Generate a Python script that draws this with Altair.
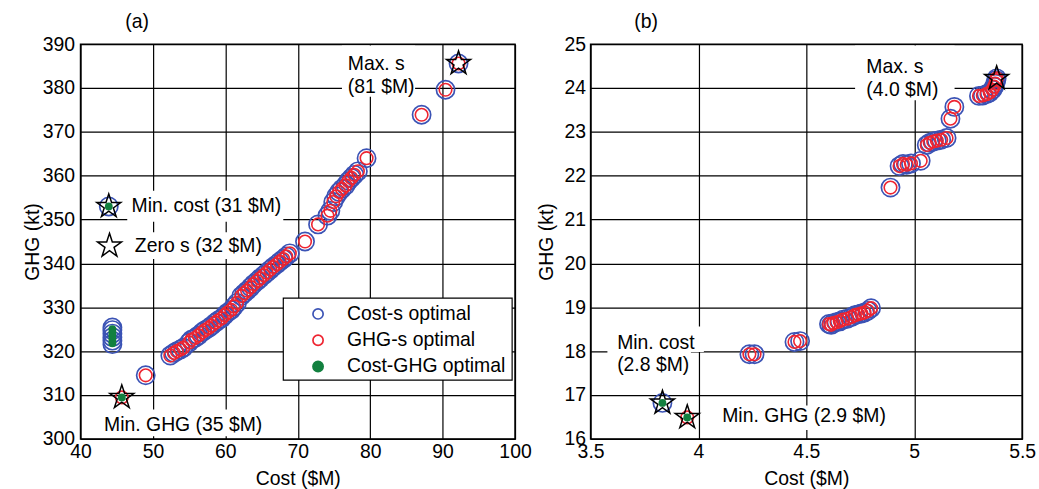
import altair as alt
import pandas as pd

# ---------------- Panel (a) data ----------------
a_pts_x = [52.4, 52.9, 53.3, 53.8, 54.2, 55.0, 55.3, 55.8, 56.3, 56.8, 57.2, 57.7, 58.1, 58.6,
           59.0, 59.5, 59.9, 60.3, 60.8, 61.2, 61.6, 62.2, 62.6, 63.0, 63.5, 63.9, 64.4, 64.8,
           65.3, 65.7, 66.2, 66.6, 67.1, 67.5, 68.0, 68.4, 68.9, 71.0, 72.8, 74.1, 74.5, 74.9,
           75.3, 75.7, 76.1, 76.6, 77.0, 77.4, 77.8, 78.3, 79.5, 87.1, 90.4, 92.2, 49.0]
a_pts_y = [319.0, 319.6, 320.0, 320.4, 320.8, 322.0, 322.6, 323.0, 323.6, 324.3, 324.8, 325.3,
           325.8, 326.5, 327.0, 327.5, 328.2, 328.8, 329.4, 330.2, 331.0, 332.6, 333.2, 333.8,
           334.6, 335.3, 336.0, 336.6, 337.3, 337.9, 338.6, 339.2, 339.8, 340.4, 341.0, 341.6,
           342.3, 345.0, 348.9, 350.9, 352.0, 354.0, 355.3, 356.3, 357.0, 357.8, 358.8, 359.5,
           360.2, 361.0, 364.0, 373.9, 379.6, 385.6, 314.5]
a_blue_extra_x = [44.4, 44.4, 44.4, 44.4, 44.4, 44.4, 43.9]
a_blue_extra_y = [321.6, 322.4, 323.2, 324.0, 324.8, 325.4, 353.0]
a_red_extra_x = [45.7]
a_red_extra_y = [309.45]
a_green_x = [44.4, 44.4, 44.4, 44.4, 44.4, 43.9, 45.7]
a_green_y = [321.8, 322.6, 323.4, 324.2, 325.0, 353.0, 309.45]
a_star_x = [92.2, 43.9, 44.0, 45.7]
a_star_y = [385.6, 353.0, 344.0, 309.45]

a_text = ["Max. s", "(81 $M)", "Min. cost (31 $M)", "Zero s (32 $M)", "Min. GHG (35 $M)"]
a_text_x = [76.9, 76.9, 47.05, 47.5, 43.25]
a_text_y = [385.4, 380.25, 353.0, 344.0, 303.2]
a_box_x1 = [76.1, 46.45, 46.9, 42.6]
a_box_x2 = [86.2, 68.0, 65.5, 65.3]
a_box_y1 = [378.0, 349.5, 341.0, 300.6]
a_box_y2 = [389.7, 356.6, 347.1, 306.7]

# legend (drawn inside panel a, in data coordinates)
SERIES = ["Cost-s optimal", "GHG-s optimal", "Cost-GHG optimal"]
leg_box_x = [68.0]
leg_box_x2 = [99.6]
leg_box_y = [313.4]
leg_box_y2 = [332.1]
leg_sym_x = [72.8, 72.8, 72.8]
leg_sym_y = [328.5, 322.5, 316.5]
leg_txt_x = [76.8, 76.8, 76.8]

# ---------------- Panel (b) data ----------------
b_pts_x = [4.236, 4.260, 4.445, 4.471, 4.605, 4.615, 4.625, 4.640, 4.655, 4.670, 4.690, 4.710,
           4.725, 4.740, 4.755, 4.770, 4.785, 4.800, 4.890, 4.932, 4.948, 4.965, 4.985, 5.030,
           5.058, 5.072, 5.088, 5.105, 5.125, 5.150, 5.168, 5.186, 5.300, 5.318, 5.335, 5.350,
           5.362, 5.370, 5.376, 5.380, 5.382]
b_pts_y = [17.93, 17.93, 18.21, 18.23, 18.62, 18.60, 18.64, 18.66, 18.68, 18.72, 18.74, 18.78,
           18.82, 18.84, 18.86, 18.88, 18.92, 18.98, 21.73, 22.22, 22.27, 22.25, 22.28, 22.34,
           22.70, 22.75, 22.78, 22.80, 22.82, 22.86, 23.30, 23.57, 23.82, 23.83, 23.86, 23.90,
           23.96, 24.03, 24.10, 24.18, 24.22]
b_blue_extra_x = [3.833]
b_blue_extra_y = [16.82]
b_red_extra_x = [3.948]
b_red_extra_y = [16.49]
b_green_x = [3.833, 3.948]
b_green_y = [16.82, 16.49]
b_star_x = [5.382, 3.833, 3.948]
b_star_y = [24.22, 16.82, 16.49]

b_text = ["Max. s", "(4.0 $M)", "Min. cost", "(2.8 $M)", "Min. GHG (2.9 $M)"]
b_text_x = [4.778, 4.778, 3.623, 3.623, 4.110]
b_text_y = [24.48, 23.95, 18.18, 17.68, 16.51]
b_box_x1 = [4.726, 3.578, 3.578, 4.085]
b_box_x2 = [5.187, 4.025, 3.965, 4.869]
b_box_y1 = [23.72, 17.98, 17.45, 16.20]
b_box_y2 = [24.97, 18.56, 17.98, 16.76]

BLUE, RED, GREEN = "#3b53b5", "#ee2430", "#12803f"
FONT = "Liberation Sans"
FS = 19.5
# five-pointed star as a custom symbol path (unit coordinates)
STAR = ("M0,-1L0.2245,-0.309L0.9511,-0.309L0.3633,0.118L0.5878,0.809L0,0.382"
        "L-0.5878,0.809L-0.3633,0.118L-0.9511,-0.309L-0.2245,-0.309Z")


def panel(title, px, py, bx, by, rx, ry, gx, gy, sx, sy, tl, tx, ty, b1, b2, b3, b4,
          xdom, xvals, ydom, yvals, xfmt, lab_pad, title_pad, w, tdx, with_legend):
    xs = alt.Scale(domain=xdom, nice=False, zero=False)
    ys = alt.Scale(domain=ydom, nice=False, zero=False)
    xax = alt.Axis(values=xvals, format=xfmt, title="Cost ($M)", grid=True, ticks=False,
                   domain=False, labelFlush=False, labelOverlap=False, labelPadding=4,
                   titlePadding=8)
    yax = alt.Axis(values=yvals, title="GHG (kt)", grid=True, ticks=False, domain=False,
                   labelFlush=False, labelOverlap=False, labelPadding=lab_pad,
                   titlePadding=title_pad)
    X = alt.X("x:Q", scale=xs, axis=xax)
    Y = alt.Y("y:Q", scale=ys, axis=yax)

    boxes = pd.DataFrame({"x": b1, "x2": b2, "y": b3, "y2": b4})
    blue = pd.DataFrame({"x": px + bx, "y": py + by})
    red = pd.DataFrame({"x": px + rx, "y": py + ry})
    green = pd.DataFrame({"x": gx, "y": gy})
    stars = pd.DataFrame({"x": sx, "y": sy})
    texts = pd.DataFrame({"x": tx, "y": ty, "label": tl})

    layers = [
        alt.Chart(boxes).mark_rect(fill="white", opacity=1).encode(
            x=X, x2=alt.X2("x2"), y=Y, y2=alt.Y2("y2")),
        alt.Chart(blue).mark_point(shape="circle", size=335, strokeWidth=1.7, stroke=BLUE,
                                   filled=False, opacity=1).encode(x=X, y=Y),
        alt.Chart(red).mark_point(shape="circle", size=160, strokeWidth=1.6, stroke=RED,
                                  filled=False, opacity=1).encode(x=X, y=Y),
        alt.Chart(green).mark_point(shape="circle", size=62, fill=GREEN, strokeWidth=0,
                                    filled=True, opacity=1).encode(x=X, y=Y),
        alt.Chart(stars).mark_point(shape=STAR, size=640, stroke="black", strokeWidth=1.5,
                                    filled=False, opacity=1).encode(x=X, y=Y),
        alt.Chart(texts).mark_text(align="left", baseline="middle", font=FONT, fontSize=FS,
                                   color="black").encode(x=X, y=Y, text="label:N"),
    ]

    if with_legend:
        lbox = pd.DataFrame({"x": leg_box_x, "x2": leg_box_x2, "y": leg_box_y,
                             "y2": leg_box_y2})
        lsym = pd.DataFrame({"x": leg_sym_x, "y": leg_sym_y, "series": SERIES})
        ltxt = pd.DataFrame({"x": leg_txt_x, "y": leg_sym_y, "label": SERIES})
        layers += [
            alt.Chart(lbox).mark_rect(fill="white", stroke="black", strokeWidth=1.2,
                                      opacity=1).encode(
                x=X, x2=alt.X2("x2"), y=Y, y2=alt.Y2("y2")),
            alt.Chart(lsym).mark_point(shape="circle", size=105, strokeWidth=1.7,
                                       opacity=1).encode(
                x=X, y=Y,
                stroke=alt.Stroke("series:N", scale=alt.Scale(domain=SERIES,
                                                                range=[BLUE, RED, GREEN]),
                                  legend=None),
                fill=alt.Fill("series:N", scale=alt.Scale(domain=SERIES,
                                                            range=["white", "white", GREEN]),
                              legend=None)),
            alt.Chart(ltxt).mark_text(align="left", baseline="middle", font=FONT,
                                      fontSize=FS, color="black").encode(
                x=X, y=Y, text="label:N"),
        ]

    return alt.layer(*layers).properties(
        width=w, height=397,
        title=alt.TitleParams(title, anchor="start", frame="group", dx=tdx, fontSize=FS,
                              font=FONT, fontWeight="normal", color="black", offset=2),
    )


pa = panel("(a)", a_pts_x, a_pts_y, a_blue_extra_x, a_blue_extra_y, a_red_extra_x,
           a_red_extra_y, a_green_x, a_green_y, a_star_x, a_star_y, a_text, a_text_x,
           a_text_y, a_box_x1, a_box_x2, a_box_y1, a_box_y2,
           [40, 100], list(range(40, 101, 10)), [300, 390], list(range(300, 391, 10)),
           "d", 6, 0, 437, 45, True)
pb = panel("(b)", b_pts_x, b_pts_y, b_blue_extra_x, b_blue_extra_y, b_red_extra_x,
           b_red_extra_y, b_green_x, b_green_y, b_star_x, b_star_y, b_text, b_text_x,
           b_text_y, b_box_x1, b_box_x2, b_box_y1, b_box_y2,
           [3.5, 5.5], [3.5, 4, 4.5, 5, 5.5], [16, 25], list(range(16, 26)),
           "~g", 5, 8, 434, 44, False)

chart = alt.hconcat(pa, pb, spacing=76, bounds="flush").configure(
    padding={"left": 21, "top": 9, "right": 2, "bottom": 2},
    background="white",
).configure_view(stroke="black", strokeWidth=1.5).configure_axis(
    gridColor="black", gridWidth=1.2, gridOpacity=1, labelFont=FONT, labelFontSize=FS,
    labelColor="black", titleFont=FONT, titleFontSize=FS, titleFontWeight="normal",
    titleColor="black")

chart.save("out.html", embed_options={"renderer": "svg", "actions": False})
